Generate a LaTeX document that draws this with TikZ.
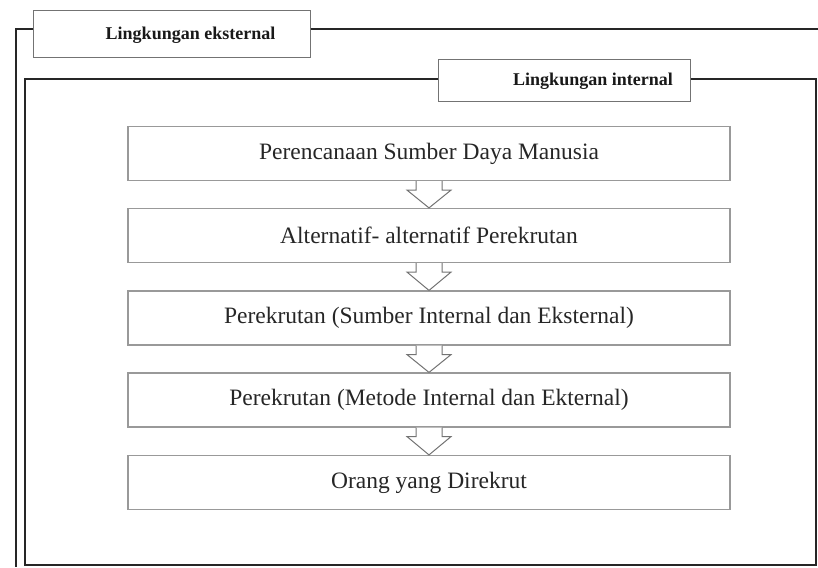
\documentclass[tikz,border=0pt]{standalone}
\usepackage{fontspec}
\setmainfont{Liberation Serif}
\usetikzlibrary{calc}

\begin{document}
\begin{tikzpicture}[x=1pt,y=-1pt,
    frame/.style={draw=black!85,line width=1.6pt},
    tag/.style={draw=black!55,line width=1pt,fill=white,inner sep=0pt},
    tagtext/.style={font=\fontsize{18}{21}\selectfont\bfseries,text=black!90},
    stage/.style={draw=black!40,line width=1.2pt,minimum width=602pt,minimum height=54pt,
        inner sep=0pt,font=\fontsize{23.5}{28}\selectfont,text=black!85},
    hollow/.style={draw=black!55,line width=1pt,fill=white}]
    \useasboundingbox (0,0) rectangle (818,567);

    % lingkungan eksternal
    \node[tag,minimum width=277pt,minimum height=47pt] (ext) at (171.5,34.5) {};
    \node[tagtext] (extlabel) at (190.5,35) {Lingkungan eksternal};
    \coordinate (exttop) at (0,29);
    \draw[frame] (ext.west |- exttop) -| (16,567);
    \draw[frame] (ext.east |- exttop) -- (818,29);

    % lingkungan internal
    \node[tag,minimum width=252pt,minimum height=42pt] (int) at (564,81) {};
    \node[tagtext] (intlabel) at (593,81.5) {Lingkungan internal};
    \coordinate (inttop) at (0,79);
    \draw[frame] (int.west |- inttop) -| (25,565) -| (816,79) -- (int.east |- inttop);

    % tahapan
    \node[stage] (s1) at (429,153.5) {Perencanaan Sumber Daya Manusia};
    \node[stage] (s2) at (429,235.5) {Alternatif- alternatif Perekrutan};
    \node[stage] (s3) at (429,318) {Perekrutan (Sumber Internal dan Eksternal)};
    \node[stage] (s4) at (429,400) {Perekrutan (Metode Internal dan Ekternal)};
    \node[stage] (s5) at (429,482.5) {Orang yang Direkrut};

    \foreach \a/\b in {s1/s2,s2/s3,s3/s4,s4/s5}
        \draw[hollow] ($(\a.south)+(-13,0)$) -- ($(\a.south)+(-13,9)$) -- ($(\a.south)+(-22,9)$)
            -- (\b.north) -- ($(\a.south)+(22,9)$) -- ($(\a.south)+(13,9)$) -- ($(\a.south)+(13,0)$);
\end{tikzpicture}
\end{document}
